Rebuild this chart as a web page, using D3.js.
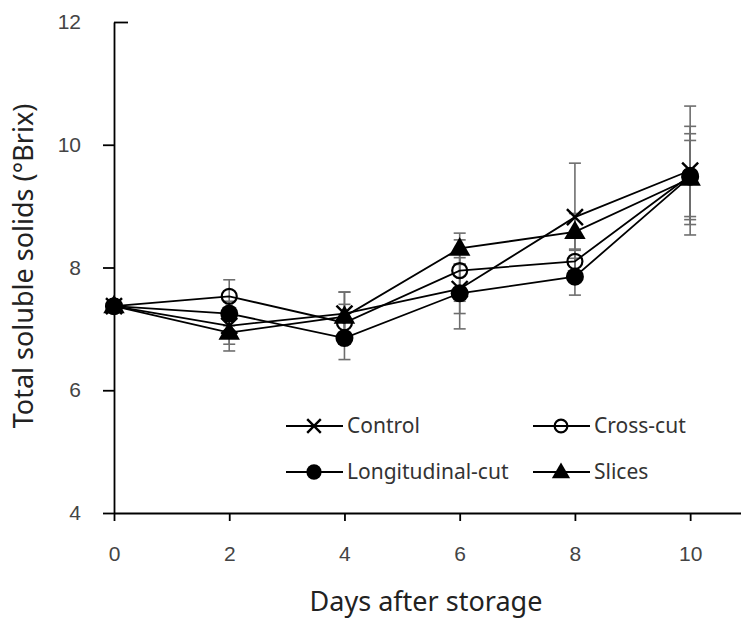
<!DOCTYPE html>
<html>
<head>
<meta charset="utf-8">
<script src="https://cdn.jsdelivr.net/npm/d3@7"></script>
<style>
  body { margin: 0; background: #fff; }
  svg { font-family: "Noto Sans", "Open Sans", sans-serif; }
</style>
</head>
<body>
<div id="chart"></div>
<script>
const days = [0, 2, 4, 6, 8, 10];
const seriesNames = ['Control', 'Cross-cut', 'Longitudinal-cut', 'Slices'];
const controlValues = [7.37, 7.05, 7.25, 7.65, 8.82, 9.58];
const controlErr = [0.1, 0.3, 0.35, 0.4, 0.88, 1.05];
const crossValues = [7.37, 7.53, 7.1, 7.95, 8.1, 9.5];
const crossErr = [0.1, 0.27, 0.3, 0.5, 0.2, 0.8];
const longValues = [7.37, 7.25, 6.85, 7.58, 7.85, 9.48];
const longErr = [0.1, 0.2, 0.35, 0.58, 0.3, 0.7];
const slicesValues = [7.37, 6.94, 7.2, 8.31, 8.58, 9.45];
const slicesErr = [0.1, 0.3, 0.4, 0.25, 0.3, 0.62];
const yTicks = [4, 6, 8, 10, 12];

const series = [
    { name: seriesNames[0], values: controlValues, err: controlErr, marker: 'cross' },
    { name: seriesNames[1], values: crossValues, err: crossErr, marker: 'open' },
    { name: seriesNames[2], values: longValues, err: longErr, marker: 'dot' },
    { name: seriesNames[3], values: slicesValues, err: slicesErr, marker: 'tri' }
];

const width = 741, height = 625;
const svg = d3.select('#chart').append('svg')
    .attr('width', width)
    .attr('height', height);

const x = d3.scaleLinear().domain([0, 10.9]).range([114, 742]);
const y = d3.scaleLinear().domain([4, 12]).range([513, 22]);

// axes
const xAxis = svg.append('g')
    .attr('transform', `translate(0,${y(4)})`)
    .call(d3.axisBottom(x).tickValues(days).tickSize(8).tickPadding(25).tickSizeOuter(0));
const yAxis = svg.append('g')
    .attr('transform', `translate(${x(0)},0)`)
    .call(d3.axisLeft(y).tickValues(yTicks).tickSize(11).tickPadding(22).tickSizeOuter(0));

[xAxis, yAxis].forEach(g => {
    g.select('.domain').attr('stroke', '#000').attr('stroke-width', 1.8);
    g.selectAll('.tick line').attr('stroke', '#000').attr('stroke-width', 1.8);
    g.selectAll('.tick text').attr('fill', '#444').attr('font-size', 21);
});
// top tick crosses the axis
yAxis.selectAll('.tick').filter(d => d === 12).select('line').attr('x2', 14);

// error bars
const errG = svg.append('g');
series.forEach(s => {
    days.forEach((d, i) => {
        const cx = x(d), top = y(s.values[i] + s.err[i]), bot = y(s.values[i] - s.err[i]);
        errG.append('line').attr('x1', cx).attr('x2', cx).attr('y1', top).attr('y2', bot)
            .attr('stroke', '#6e6e6e').attr('stroke-width', 1.6);
        [top, bot].forEach(yy => errG.append('line')
            .attr('x1', cx - 6).attr('x2', cx + 6).attr('y1', yy).attr('y2', yy)
            .attr('stroke', '#6e6e6e').attr('stroke-width', 1.6));
    });
});

// lines
const line = d3.line().x((d, i) => x(days[i])).y(d => y(d));
series.forEach(s => {
    svg.append('path').datum(s.values)
        .attr('fill', 'none').attr('stroke', '#000').attr('stroke-width', 1.8)
        .attr('d', line);
});

function drawMarker(g, type, cx, cy, k) {
    if (type === 'cross') {
        const r = 8 * k;
        g.append('path')
            .attr('d', `M${cx - r},${cy - r}L${cx + r},${cy + r}M${cx - r},${cy + r}L${cx + r},${cy - r}`)
            .attr('stroke', '#000').attr('stroke-width', 2.4);
    } else if (type === 'open') {
        g.append('circle').attr('cx', cx).attr('cy', cy).attr('r', 7.5 * k)
            .attr('fill', '#fff').attr('fill-opacity', 0).attr('stroke', '#000').attr('stroke-width', 2.2);
    } else if (type === 'dot') {
        g.append('circle').attr('cx', cx).attr('cy', cy).attr('r', 9 * k).attr('fill', '#000');
    } else {
        g.append('path')
            .attr('d', d3.symbol().type(d3.symbolTriangle).size(200 * k * k)())
            .attr('transform', `translate(${cx},${cy + 1})`)
            .attr('fill', '#000');
    }
}

const markG = svg.append('g');
series.forEach(s => {
    s.values.forEach((v, i) => drawMarker(markG, s.marker, x(days[i]), y(v), 1));
});

// legend
const legendPos = [[286, 426], [533, 426], [286, 472], [533, 472]];
series.forEach((s, i) => {
    const [lx, ly] = legendPos[i];
    const lg = svg.append('g');
    lg.append('line').attr('x1', lx).attr('x2', lx + 57).attr('y1', ly).attr('y2', ly)
        .attr('stroke', '#000').attr('stroke-width', 1.8);
    drawMarker(lg, s.marker, lx + 28, ly, 0.85);
    lg.append('text').attr('x', lx + 61).attr('y', ly + 7)
        .attr('font-size', 21).attr('fill', '#333').text(s.name);
});

// axis titles
svg.append('text')
    .attr('transform', `translate(33,266) rotate(-90)`)
    .attr('text-anchor', 'middle')
    .attr('font-size', 27).attr('fill', '#222')
    .text('Total soluble solids (°Brix)');
svg.append('text')
    .attr('x', 426).attr('y', 611)
    .attr('text-anchor', 'middle')
    .attr('font-size', 27).attr('fill', '#222')
    .text('Days after storage');
</script>
</body>
</html>
